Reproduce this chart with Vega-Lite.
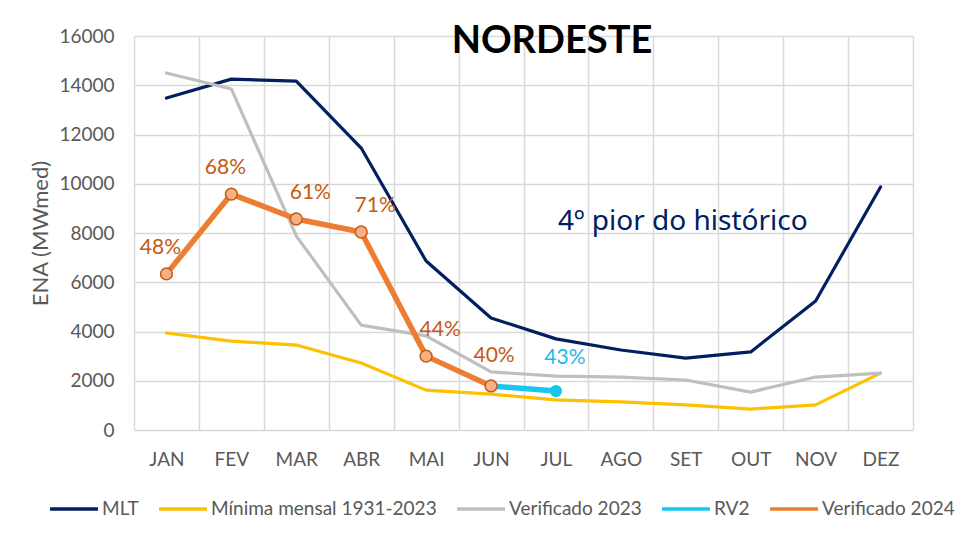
{
  "$schema": "https://vega.github.io/schema/vega-lite/v6.json",
  "width": 779,
  "height": 394,
  "autosize": {"type": "none"},
  "padding": {"left": 134, "top": 36, "right": 56, "bottom": 108},
  "background": "white",
  "config": {
    "font": "Lato",
    "view": {"stroke": null},
    "axis": {"labelColor": "#595959", "titleColor": "#595959", "labelFontSize": 19, "gridColor": "#D9D9D9", "gridWidth": 1.5}
  },
  "data": {
    "values": [
      {"month": "JAN", "series": "MLT", "value": 13480},
      {"month": "FEV", "series": "MLT", "value": 14250},
      {"month": "MAR", "series": "MLT", "value": 14170},
      {"month": "ABR", "series": "MLT", "value": 11450},
      {"month": "MAI", "series": "MLT", "value": 6860},
      {"month": "JUN", "series": "MLT", "value": 4550},
      {"month": "JUL", "series": "MLT", "value": 3700},
      {"month": "AGO", "series": "MLT", "value": 3250},
      {"month": "SET", "series": "MLT", "value": 2920},
      {"month": "OUT", "series": "MLT", "value": 3170},
      {"month": "NOV", "series": "MLT", "value": 5240},
      {"month": "DEZ", "series": "MLT", "value": 9870},
      {"month": "JAN", "series": "Mínima mensal 1931-2023", "value": 3940},
      {"month": "FEV", "series": "Mínima mensal 1931-2023", "value": 3610},
      {"month": "MAR", "series": "Mínima mensal 1931-2023", "value": 3450},
      {"month": "ABR", "series": "Mínima mensal 1931-2023", "value": 2720},
      {"month": "MAI", "series": "Mínima mensal 1931-2023", "value": 1620},
      {"month": "JUN", "series": "Mínima mensal 1931-2023", "value": 1460},
      {"month": "JUL", "series": "Mínima mensal 1931-2023", "value": 1220},
      {"month": "AGO", "series": "Mínima mensal 1931-2023", "value": 1140},
      {"month": "SET", "series": "Mínima mensal 1931-2023", "value": 1020},
      {"month": "OUT", "series": "Mínima mensal 1931-2023", "value": 850},
      {"month": "NOV", "series": "Mínima mensal 1931-2023", "value": 1020},
      {"month": "DEZ", "series": "Mínima mensal 1931-2023", "value": 2310},
      {"month": "JAN", "series": "Verificado 2023", "value": 14500},
      {"month": "FEV", "series": "Verificado 2023", "value": 13850},
      {"month": "MAR", "series": "Verificado 2023", "value": 7880},
      {"month": "ABR", "series": "Verificado 2023", "value": 4260},
      {"month": "MAI", "series": "Verificado 2023", "value": 3820},
      {"month": "JUN", "series": "Verificado 2023", "value": 2360},
      {"month": "JUL", "series": "Verificado 2023", "value": 2190},
      {"month": "AGO", "series": "Verificado 2023", "value": 2150},
      {"month": "SET", "series": "Verificado 2023", "value": 2030},
      {"month": "OUT", "series": "Verificado 2023", "value": 1540},
      {"month": "NOV", "series": "Verificado 2023", "value": 2150},
      {"month": "DEZ", "series": "Verificado 2023", "value": 2310},
      {"month": "JUN", "series": "RV2", "value": 1790},
      {"month": "JUL", "series": "RV2", "value": 1580, "pct": "43%"},
      {"month": "JAN", "series": "Verificado 2024", "value": 6340, "pct": "48%"},
      {"month": "FEV", "series": "Verificado 2024", "value": 9580, "pct": "68%"},
      {"month": "MAR", "series": "Verificado 2024", "value": 8570, "pct": "61%"},
      {"month": "ABR", "series": "Verificado 2024", "value": 8040, "pct": "71%"},
      {"month": "MAI", "series": "Verificado 2024", "value": 3000, "pct": "44%"},
      {"month": "JUN", "series": "Verificado 2024", "value": 1790, "pct": "40%"}
    ]
  },
  "encoding": {
    "x": {
      "field": "month", "type": "nominal", "bandPosition": 0.5,
      "sort": ["JAN","FEV","MAR","ABR","MAI","JUN","JUL","AGO","SET","OUT","NOV","DEZ"],
      "scale": {"type": "band", "paddingInner": 0, "paddingOuter": 0, "domain": ["JAN","FEV","MAR","ABR","MAI","JUN","JUL","AGO","SET","OUT","NOV","DEZ"]},
      "axis": {"title": null, "tickBand": "extent", "ticks": false, "domain": false, "labelAngle": 0, "labelPadding": 20, "grid": true}
    },
    "y": {
      "field": "value", "type": "quantitative",
      "scale": {"domain": [0, 16000], "nice": false},
      "axis": {"title": "ENA (MWmed)", "format": "d", "titleFontSize": 22, "titleFontWeight": "normal", "titlePadding": 6, "values": [0,2000,4000,6000,8000,10000,12000,14000,16000], "ticks": false, "domain": false, "labelPadding": 20}
    }
  },
  "layer": [
    {
      "transform": [{"filter": "datum.series !== 'RV2' && datum.series !== 'Verificado 2024'"}],
      "mark": {"type": "line", "strokeWidth": 3.2, "strokeCap": "round", "strokeJoin": "round"},
      "encoding": {
        "color": {
          "field": "series", "type": "nominal",
          "scale": {"domain": ["MLT", "Mínima mensal 1931-2023", "Verificado 2023", "RV2", "Verificado 2024"], "range": ["#002060", "#FFC000", "#BFBFBF", "#17C7EE", "#ED7D31"]},
          "legend": {
            "title": null, "orient": "none", "direction": "horizontal", "legendX": -86, "legendY": 447,
            "symbolType": "stroke", "symbolSize": 2300, "symbolStrokeWidth": 3.5, "labelLimit": 400,
            "labelFontSize": 19, "labelColor": "#595959", "labelOffset": 2, "columnPadding": 13
          }
        }
      }
    },
    {
      "transform": [{"filter": "datum.series === 'RV2' || datum.series === 'Verificado 2024'"}],
      "mark": {"type": "line", "strokeWidth": 5.5, "strokeCap": "round", "strokeJoin": "round"},
      "encoding": {
        "color": {"field": "series", "type": "nominal"}
      }
    },
    {
      "transform": [{"filter": "datum.series === 'RV2' && datum.month === 'JUL'"}],
      "mark": {"type": "point", "filled": true, "size": 150, "color": "#17C7EE", "opacity": 1}
    },
    {
      "transform": [{"filter": "datum.series === 'Verificado 2024'"}],
      "mark": {"type": "point", "filled": true, "size": 140, "fill": "#F4B183", "stroke": "#C55A11", "strokeWidth": 1.5, "opacity": 1}
    },
    {
      "transform": [{"filter": "datum.series === 'Verificado 2024' && (datum.month === 'JAN' || datum.month === 'FEV')"}],
      "mark": {"type": "text", "fontSize": 21, "color": "#C55A11", "dx": -6, "dy": -26},
      "encoding": {"text": {"field": "pct"}}
    },
    {
      "transform": [{"filter": "datum.series === 'Verificado 2024' && (datum.month === 'MAR' || datum.month === 'ABR' || datum.month === 'MAI')"}],
      "mark": {"type": "text", "fontSize": 21, "color": "#C55A11", "dx": 14, "dy": -26},
      "encoding": {"text": {"field": "pct"}}
    },
    {
      "transform": [{"filter": "datum.series === 'Verificado 2024' && datum.month === 'JUN'"}],
      "mark": {"type": "text", "fontSize": 21, "color": "#C55A11", "dx": 3, "dy": -30},
      "encoding": {"text": {"field": "pct"}}
    },
    {
      "transform": [{"filter": "datum.series === 'RV2' && datum.month === 'JUL'"}],
      "mark": {"type": "text", "fontSize": 21, "color": "#1CB9EE", "dx": 9, "dy": -33},
      "encoding": {"text": {"field": "pct"}}
    },
    {
      "transform": [{"filter": "datum.series === 'MLT' && datum.month === 'JUL'"}],
      "mark": {"type": "text", "text": "NORDESTE", "fontSize": 38, "fontWeight": "bold", "color": "#000000", "dx": -4, "baseline": "middle"},
      "encoding": {"y": {"datum": 15750}}
    },
    {
      "transform": [{"filter": "datum.series === 'MLT' && datum.month === 'JUL'"}],
      "mark": {"type": "text", "text": "4º pior do histórico", "font": "Noto Sans", "fontSize": 28, "color": "#002060", "align": "left", "dx": 2, "baseline": "middle"},
      "encoding": {"y": {"datum": 8450}}
    }
  ]
}
